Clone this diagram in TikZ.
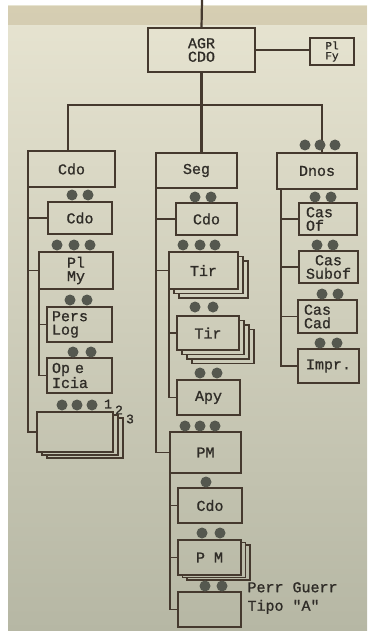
\documentclass[tikz,border=0pt]{standalone}
\usepackage{fontspec}
\newfontfamily\tw{Liberation Mono}[FakeBold=1]
\usetikzlibrary{calc}
\definecolor{ink}{HTML}{45392E}
\definecolor{type}{HTML}{2F2C27}
\definecolor{paper}{HTML}{E7E4D1}
\definecolor{papermid}{HTML}{DDDBC7}
\definecolor{paperlow}{HTML}{B6B7A4}
\definecolor{stain}{HTML}{CFC5A6}
\definecolor{bead}{HTML}{55584F}

\begin{document}
\begin{tikzpicture}[x=1pt,y=-1pt,font=\tw\fontsize{15}{13.5}\selectfont,
 box/.style={draw=ink,line width=1.4pt,inner sep=1pt,outer sep=0pt,anchor=north west,align=center,text=type},
 sz/.style 2 args={minimum width=#1,minimum height=#2},
 link/.style={draw=ink,line width=1.4pt},
 trunk/.style={draw=ink,line width=2.2pt},
 num/.style={text=type,inner sep=0pt,font=\tw\fontsize{13}{13}\selectfont}]
 \useasboundingbox(0,0)rectangle(367,631);
 % paper
 \fill[white](0,0)rectangle(367,631);
 \shade[top color=paper,middle color=papermid,bottom color=paperlow](8,6)rectangle(367,631);
 \fill[stain,opacity=.7](8,6)rectangle(367,25);
 % head
 \node[box,sz={107pt}{44pt}](agr)at(148,28){AGR\\CDO};
 \node[box,sz={44pt}{27pt},font=\tw\fontsize{11}{10}\selectfont](plfy)at(310,38){Pl\\Fy};
 \coordinate(top)at(202,0);
 \coordinate(barL)at(68,105);\coordinate(barR)at(322,105);
 % branches
 \node[box,sz={87pt}{36pt}](cdoL)at(28,151){Cdo};
 \node[box,sz={81pt}{35pt}](seg)at(156,153){Seg};
 \node[box,sz={80pt}{36pt}](dnos)at(277,153){Dnos};
 % left column
 \node[box,sz={64pt}{32pt}](cdoS)at(48,202){Cdo};
 \node[box,sz={74pt}{37pt}](plmy)at(39,252){Pl\\My};
 \node[box,sz={65pt}{35pt},align=left,inner xsep=5pt,text width=55pt](perslog)at(47,307){Pers\\Log};
 \node[box,sz={65pt}{35pt},align=left,inner xsep=5pt,text width=55pt](opicia)at(47,358){Op e\\Icia};
 \node[box,sz={76pt}{40pt}](grp)at(37,412){};
 \node[num](n1)at(108,404){1};\node[num](n2)at(119,410){2};\node[num](n3)at(130,419){3};
 % middle column
 \node[box,sz={61pt}{32pt}](cdoSeg)at(176,203){Cdo};
 \node[box,sz={69pt}{37pt}](tirA)at(169,252){Tir};
 \node[box,sz={62pt}{34pt}](tirB)at(177,316){Tir};
 \node[box,sz={63pt}{35pt}](apy)at(177,380){Apy};
 \node[box,sz={71pt}{41pt}](pm)at(170,432){PM};
 \node[box,sz={64pt}{35pt}](cdoPM)at(178,488){Cdo};
 \node[box,sz={63pt}{35pt}](pm2)at(178,540){P M};
 \node[box,sz={63pt}{35pt}](perr)at(178,592){};
 \node[anchor=west,align=left,text=type](perrlab)at(244,598){Perr Guerr\\[5pt]Tipo "A"};
 % right column
 \node[box,sz={58pt}{32pt},align=left,inner xsep=7pt,text width=44pt](casof)at(299,203){Cas\\Of};
 \node[box,sz={59pt}{32pt}](cassub)at(299,251){Cas\\Subof};
 \node[box,sz={59pt}{33pt},align=left,inner xsep=6pt,text width=47pt](cascad)at(298,300){Cas\\Cad};
 \node[box,sz={61pt}{34pt}](impr)at(298,349){Impr.};
 % stacked copies
 \foreach \k in {1,2}\draw[link]($(grp.north east)+({5*(\k-1)},{3*\k})$)--++(5,0)|-($(grp.south west)+({5*\k},{3*\k})$)--++(0,-3);
 \foreach \k in {1,2}\draw[link]($(tirA.north east)+({5*(\k-1)},{4.5*\k})$)--++(5,0)|-($(tirA.south west)+({5*\k},{4.5*\k})$)--++(0,-4.5);
 \foreach \k in {1,2,3}\draw[link]($(tirB.north east)+({5*(\k-1)},{4.5*\k})$)--++(5,0)|-($(tirB.south west)+({5*\k},{4.5*\k})$)--++(0,-4.5);
 \foreach \k in {1,2}\draw[link]($(pm2.north east)+({4.5*(\k-1)},{2.5*\k})$)--++(4.5,0)|-($(pm2.south west)+({4.5*\k},{2.5*\k})$)--++(0,-2.5);
 % tree
 \draw[trunk](top)--(agr.north);
 \draw[link](agr.east)--(agr.east-|plfy.west);
 \draw[trunk](agr.south)--(agr.south|-seg.north);
 \draw[trunk](barL|-cdoL.north)--(barL)--(barR)--(barR|-dnos.north);
 \draw[link](cdoL.south west)|-(grp.west);
 \draw[link](cdoL.south west|-cdoS.west)--(cdoS.west);
 \draw[link](cdoL.south west|-plmy.west)--(plmy.west);
 \draw[link](plmy.south west)|-(opicia.west);
 \draw[link](plmy.south west|-perslog.west)--(perslog.west);
 \draw[link](seg.south west)|-(pm.west);
 \draw[link](seg.south west|-cdoSeg.west)--(cdoSeg.west);
 \draw[link](seg.south west|-tirA.west)--(tirA.west);
 \draw[link](tirA.south west)|-(apy.west);
 \draw[link](tirA.south west|-tirB.west)--(tirB.west);
 \draw[link](pm.south west)|-(perr.west);
 \draw[link](pm.south west|-cdoPM.west)--(cdoPM.west);
 \draw[link](pm.south west|-pm2.west)--(pm2.west);
 \draw[link]([xshift=4pt]dnos.south west)|-(impr.west);
 \draw[link]([xshift=4pt]dnos.south west|-casof.west)--(casof.west);
 \draw[link]([xshift=4pt]dnos.south west|-cassub.west)--(cassub.west);
 \draw[link]([xshift=4pt]dnos.south west|-cascad.west)--(cascad.west);
 % beads
 \foreach \x/\y in {305/145,320/145,335/145, 72/195,88/195, 57/245,74/245,90/245, 70/300,87/300, 73/352,91/352,
  62/405,77/405,92/405, 195/197,211/197, 183/245,200/245,215/245, 195/307,213/307, 200/373,217/373,
  185/426,200/426,215/426, 206/482, 202/533,220/533, 205/586,222/586,
  315/197,331/197, 317/245,333/245, 322/294,338/294, 320/343,337/343}
  \fill[bead](\x,\y)circle(5.5pt);
\end{tikzpicture}
\end{document}
